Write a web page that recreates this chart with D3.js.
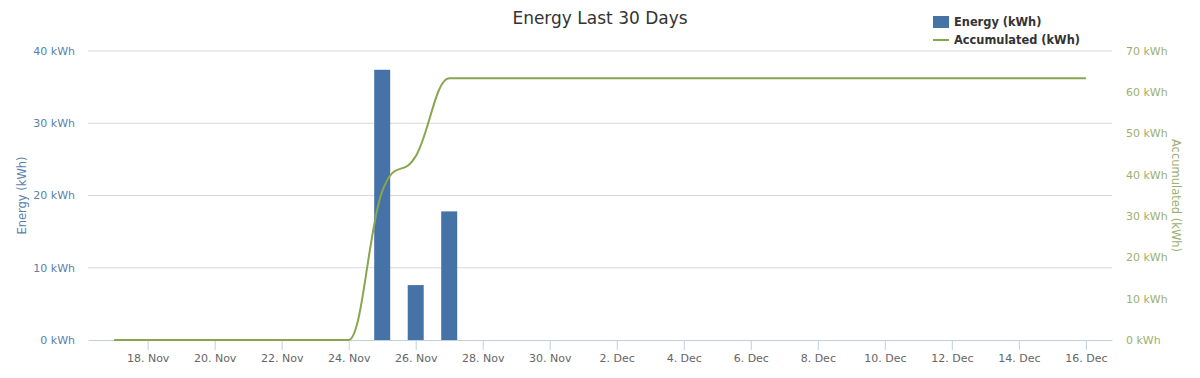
<!DOCTYPE html>
<html>
<head>
<meta charset="utf-8">
<script src="https://cdn.jsdelivr.net/npm/d3@7"></script>
<style>
  body { margin: 0; background: #fff; }
  svg { display: block; font-family: "DejaVu Sans", sans-serif; }
</style>
</head>
<body>
<div id="chart"></div>
<script>
const w = 1200, h = 378;
const m = { l: 88, r: 88, t: 51, b: 38 };
m.w = w - m.l - m.r;
m.h = h - m.t - m.b;

// data: one entry per day, 17 Nov .. 16 Dec
const startDay = new Date(2012, 10, 17);
const days = d3.range(30).map(i => d3.timeDay.offset(startDay, i));
const energy = [0, 0, 0, 0, 0, 0, 0, 0, 37.4, 7.6, 17.8, 0, 0, 0, 0,
                0, 0, 0, 0, 0, 0, 0, 0, 0, 0, 0, 0, 0, 0, 0];
const accumulated = [0, 0, 0, 0, 0, 0, 0, 0, 36.0, 44.5, 63.4, 63.4, 63.4, 63.4, 63.4,
                     63.4, 63.4, 63.4, 63.4, 63.4, 63.4, 63.4, 63.4, 63.4, 63.4, 63.4, 63.4, 63.4, 63.4, 63.4];
const leftTicks = [0, 10, 20, 30, 40];
const rightTicks = [0, 10, 20, 30, 40, 50, 60, 70];

const blue = "#4572A7", green = "#89A54E";

const svg = d3.select("#chart").append("svg").attr("width", w).attr("height", h);
const g = svg.append("g").attr("transform", `translate(${m.l},${m.t})`);

const pad = 0.78 * 864e5;
const x = d3.scaleTime()
  .domain([+days[0] - pad, +days[days.length - 1] + pad])
  .range([0, m.w]);
const yL = d3.scaleLinear().domain([0, 40]).range([m.h, 0]);
const yR = d3.scaleLinear().domain([0, 70]).range([m.h, 0]);

// grid
g.append("g").selectAll("line")
  .data(leftTicks.slice(1))
  .join("line")
  .attr("x1", 0).attr("x2", m.w)
  .attr("y1", d => yL(d)).attr("y2", d => yL(d))
  .attr("stroke", "#D8D8D8").attr("stroke-width", 1);

// x axis
const xAxis = g.append("g").attr("transform", `translate(0,${m.h})`)
  .call(d3.axisBottom(x)
    .tickValues(days.filter((d, i) => i % 2 === 1))
    .tickFormat(d => d3.timeFormat("%-d. %b")(d))
    .tickSize(10).tickSizeOuter(0).tickPadding(4));
xAxis.select(".domain").attr("stroke", "#C0D0E0");
xAxis.selectAll(".tick line").attr("stroke", "#C0D0E0");
xAxis.selectAll(".tick text").attr("fill", "#666").attr("font-size", 11)
  .attr("font-family", "DejaVu Sans, sans-serif");

// left axis labels
g.append("g").selectAll("text")
  .data(leftTicks)
  .join("text")
  .attr("x", -13).attr("y", d => yL(d)).attr("dy", "0.35em")
  .attr("text-anchor", "end").attr("font-size", 11).attr("fill", "#5a7fb0")
  .text(d => `${d} kWh`);

// right axis labels
g.append("g").selectAll("text")
  .data(rightTicks)
  .join("text")
  .attr("x", m.w + 14).attr("y", d => yR(d)).attr("dy", "0.35em")
  .attr("text-anchor", "start").attr("font-size", 11).attr("fill", "#9bb070")
  .text(d => `${d} kWh`);

// bars
const bw = 16;
g.append("g").selectAll("rect")
  .data(days.map((d, i) => ({ d, v: energy[i] })).filter(p => p.v > 0))
  .join("rect")
  .attr("x", p => x(p.d) - bw / 2).attr("width", bw)
  .attr("y", p => yL(p.v)).attr("height", p => m.h - yL(p.v))
  .attr("fill", blue);

// accumulated line, spline smoothed like the original (smoothing 1.5, clamped)
function splinePath(pts) {
  const s = 1.5, den = s + 1, p = d3.path();
  const rc = [];
  pts.forEach((pt, i) => {
    const [px, py] = pt;
    let lcx = px, lcy = py;
    const prev = pts[i - 1], next = pts[i + 1];
    if (prev && next) {
      lcx = (s * px + prev[0]) / den; lcy = (s * py + prev[1]) / den;
      const rcx = (s * px + next[0]) / den;
      let rcy = (s * py + next[1]) / den;
      const corr = ((rcy - lcy) * (rcx - px)) / (rcx - lcx) + py - rcy;
      lcy += corr; rcy += corr;
      if (lcy > prev[1] && lcy > py) { lcy = Math.max(prev[1], py); rcy = 2 * py - lcy; }
      else if (lcy < prev[1] && lcy < py) { lcy = Math.min(prev[1], py); rcy = 2 * py - lcy; }
      if (rcy > next[1] && rcy > py) { rcy = Math.max(next[1], py); lcy = 2 * py - rcy; }
      else if (rcy < next[1] && rcy < py) { rcy = Math.min(next[1], py); lcy = 2 * py - rcy; }
      rc[i] = [rcx, rcy];
    } else {
      rc[i] = [px, py];
      if (prev) { lcx = px; lcy = py; }
    }
    if (i === 0) p.moveTo(px, py);
    else p.bezierCurveTo(rc[i - 1][0], rc[i - 1][1], lcx, lcy, px, py);
  });
  return p.toString();
}
const linePts = accumulated.map((v, i) => [x(days[i]), yR(v)]);
g.append("path")
  .attr("d", splinePath(linePts))
  .attr("fill", "none").attr("stroke", green).attr("stroke-width", 2);

// title
svg.append("text").attr("x", w / 2).attr("y", 24)
  .attr("text-anchor", "middle").attr("font-size", 17).attr("fill", "#333")
  .text("Energy Last 30 Days");

// axis titles
svg.append("text")
  .attr("transform", `translate(26,${m.t + m.h / 2}) rotate(-90)`)
  .attr("text-anchor", "middle").attr("font-size", 11.5).attr("fill", "#5a7fb0")
  .text("Energy (kWh)");
svg.append("text")
  .attr("transform", `translate(1172,${m.t + m.h / 2}) rotate(90)`)
  .attr("text-anchor", "middle").attr("font-size", 11.5).attr("fill", "#9bb070")
  .text("Accumulated (kWh)");

// legend
const lg = svg.append("g").attr("transform", "translate(933,0)");
lg.append("rect").attr("x", 0).attr("y", 16).attr("width", 16).attr("height", 12).attr("fill", blue);
lg.append("line").attr("x1", 0).attr("x2", 16).attr("y1", 40).attr("y2", 40)
  .attr("stroke", green).attr("stroke-width", 2);
lg.append("text").attr("x", 21).attr("y", 26).attr("font-size", 11.4).attr("font-weight", "bold")
  .attr("fill", "#333").text("Energy (kWh)");
lg.append("text").attr("x", 21).attr("y", 44).attr("font-size", 11.4).attr("font-weight", "bold")
  .attr("fill", "#333").text("Accumulated (kWh)");
</script>
</body>
</html>
